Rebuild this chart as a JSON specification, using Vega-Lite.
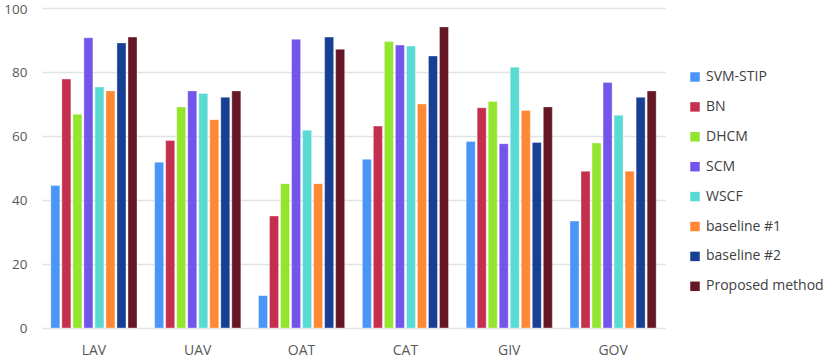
{
  "$schema": "https://vega.github.io/schema/vega-lite/v6.json",
  "width": 623,
  "height": 320,
  "autosize": {"type": "none"},
  "padding": {"left": 42, "top": 8, "right": 165, "bottom": 34},
  "background": "white",
  "config": {
    "view": {"stroke": null},
    "font": "Open Sans"
  },
  "data": {
    "values": [
      {"g": "LAV", "m": "SVM-STIP", "v": 44.5}, {"g": "LAV", "m": "BN", "v": 77.8}, {"g": "LAV", "m": "DHCM", "v": 66.8}, {"g": "LAV", "m": "SCM", "v": 90.7}, {"g": "LAV", "m": "WSCF", "v": 75.3}, {"g": "LAV", "m": "baseline #1", "v": 74.1}, {"g": "LAV", "m": "baseline #2", "v": 89.1}, {"g": "LAV", "m": "Proposed method", "v": 90.9},
      {"g": "UAV", "m": "SVM-STIP", "v": 51.8}, {"g": "UAV", "m": "BN", "v": 58.6}, {"g": "UAV", "m": "DHCM", "v": 69.1}, {"g": "UAV", "m": "SCM", "v": 74.1}, {"g": "UAV", "m": "WSCF", "v": 73.3}, {"g": "UAV", "m": "baseline #1", "v": 65.1}, {"g": "UAV", "m": "baseline #2", "v": 72.1}, {"g": "UAV", "m": "Proposed method", "v": 74.1},
      {"g": "OAT", "m": "SVM-STIP", "v": 10.1}, {"g": "OAT", "m": "BN", "v": 35.0}, {"g": "OAT", "m": "DHCM", "v": 45.1}, {"g": "OAT", "m": "SCM", "v": 90.2}, {"g": "OAT", "m": "WSCF", "v": 61.8}, {"g": "OAT", "m": "baseline #1", "v": 45.1}, {"g": "OAT", "m": "baseline #2", "v": 90.9}, {"g": "OAT", "m": "Proposed method", "v": 87.1},
      {"g": "CAT", "m": "SVM-STIP", "v": 52.7}, {"g": "CAT", "m": "BN", "v": 63.1}, {"g": "CAT", "m": "DHCM", "v": 89.5}, {"g": "CAT", "m": "SCM", "v": 88.4}, {"g": "CAT", "m": "WSCF", "v": 88.1}, {"g": "CAT", "m": "baseline #1", "v": 70.0}, {"g": "CAT", "m": "baseline #2", "v": 85.0}, {"g": "CAT", "m": "Proposed method", "v": 94.1},
      {"g": "GIV", "m": "SVM-STIP", "v": 58.3}, {"g": "GIV", "m": "BN", "v": 68.8}, {"g": "GIV", "m": "DHCM", "v": 70.8}, {"g": "GIV", "m": "SCM", "v": 57.6}, {"g": "GIV", "m": "WSCF", "v": 81.5}, {"g": "GIV", "m": "baseline #1", "v": 68.0}, {"g": "GIV", "m": "baseline #2", "v": 58.0}, {"g": "GIV", "m": "Proposed method", "v": 69.1},
      {"g": "GOV", "m": "SVM-STIP", "v": 33.4}, {"g": "GOV", "m": "BN", "v": 49.0}, {"g": "GOV", "m": "DHCM", "v": 57.8}, {"g": "GOV", "m": "SCM", "v": 76.7}, {"g": "GOV", "m": "WSCF", "v": 66.5}, {"g": "GOV", "m": "baseline #1", "v": 49.0}, {"g": "GOV", "m": "baseline #2", "v": 72.1}, {"g": "GOV", "m": "Proposed method", "v": 74.1}
    ]
  },
  "mark": {"type": "bar", "stroke": "white", "strokeWidth": 0.6, "strokeOpacity": 0.6},
  "encoding": {
    "x": {
      "field": "g", "type": "nominal", "sort": null,
      "scale": {"paddingInner": 0.17, "paddingOuter": 0.085},
      "axis": {"title": null, "labelAngle": 0, "domain": false, "ticks": false, "labelFontSize": 14, "labelColor": "#595959", "labelPadding": 15, "labelFont": "Open Sans"}
    },
    "xOffset": {
      "field": "m", "type": "nominal", "sort": null,
      "scale": {"paddingInner": 0.18}
    },
    "y": {
      "field": "v", "type": "quantitative",
      "scale": {"domain": [0, 100], "nice": false},
      "axis": {"title": null, "values": [0, 20, 40, 60, 80, 100], "domain": false, "ticks": false, "labelFontSize": 13.5, "labelColor": "#595959", "labelPadding": 15, "gridColor": "#dfe3e3", "gridWidth": 1.5, "labelFont": "Open Sans", "labelOffset": {"condition": {"test": "datum.value == 100", "value": 1}, "value": 0}}
    },
    "color": {
      "field": "m", "type": "nominal", "sort": null,
      "scale": {
        "domain": ["SVM-STIP", "BN", "DHCM", "SCM", "WSCF", "baseline #1", "baseline #2", "Proposed method"],
        "range": ["#4a95f8", "#c42f4e", "#93e52e", "#7455ec", "#59dbd3", "#ff8834", "#173f93", "#661726"]
      },
      "legend": {
        "title": null, "orient": "none", "legendX": 646, "legendY": 62, "padding": 0,
        "symbolType": "square", "symbolSize": 90, "symbolStrokeWidth": 0, "symbolOpacity": 1,
        "labelFontSize": 14, "labelColor": "#404040", "labelFont": "Open Sans", "rowPadding": 15.9, "labelOffset": 4
      }
    }
  }
}
